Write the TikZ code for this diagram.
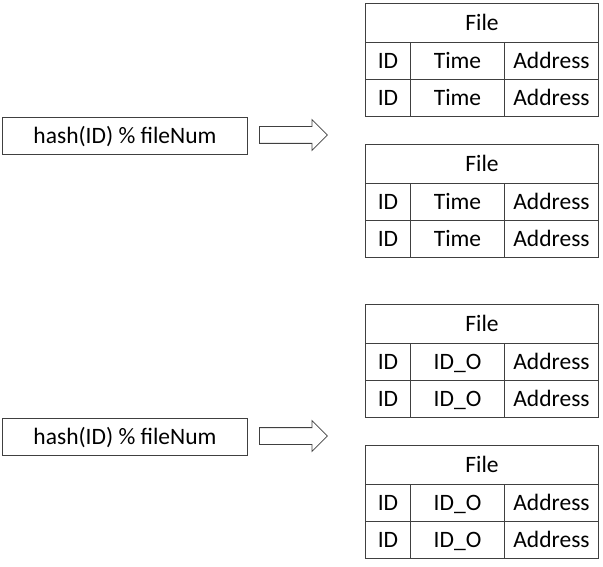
\documentclass[tikz,border=0pt]{standalone}
\usepackage{fontspec}
\setmainfont{Carlito}
\usetikzlibrary{shapes.arrows}
\definecolor{linec}{HTML}{404040}
\begin{document}
\begin{tikzpicture}[x=1pt,y=-1pt,
  txt/.style={font=\fontsize{23.5}{26}\selectfont, text height=15pt, text depth=0pt},
  cell/.style={txt, draw=linec, line width=1pt, inner sep=0pt, anchor=north west},
  hashbox/.style={txt, draw=linec, line width=1pt, inner sep=0pt, anchor=north west, minimum width=245pt, minimum height=37pt},
  blockarrow/.style={single arrow, draw=linec, line width=0.8pt, inner sep=8pt, single arrow head extend=7pt, minimum height=68pt, anchor=west}]
\useasboundingbox (0,0) rectangle (603,567);
\foreach \n/\ty/\mid in {a/3/Time, b/144/Time, c/304/ID\_O, d/445/ID\_O}{
  \node[cell, minimum width=233pt, minimum height=39pt] (\n h) at (365,\ty) {File};
  \foreach \r/\dy in {1/39, 2/76}{
    \node[cell, minimum width=45pt, minimum height=37pt] (\n\r id) at (365,\ty+\dy) {ID};
    \node[cell, minimum width=94pt, minimum height=37pt] (\n\r mid) at (410,\ty+\dy) {\mid};
    \node[cell, minimum width=94pt, minimum height=37pt] (\n\r addr) at (504,\ty+\dy) {Address};
  }
}
\node[hashbox] (hash1) at (2,117) {hash(ID) \% fileNum};
\node[hashbox] (hash2) at (2,418) {hash(ID) \% fileNum};
\node[blockarrow] (arr1) at (259,135) {};
\node[blockarrow] (arr2) at (259,436) {};
\end{tikzpicture}
\end{document}
